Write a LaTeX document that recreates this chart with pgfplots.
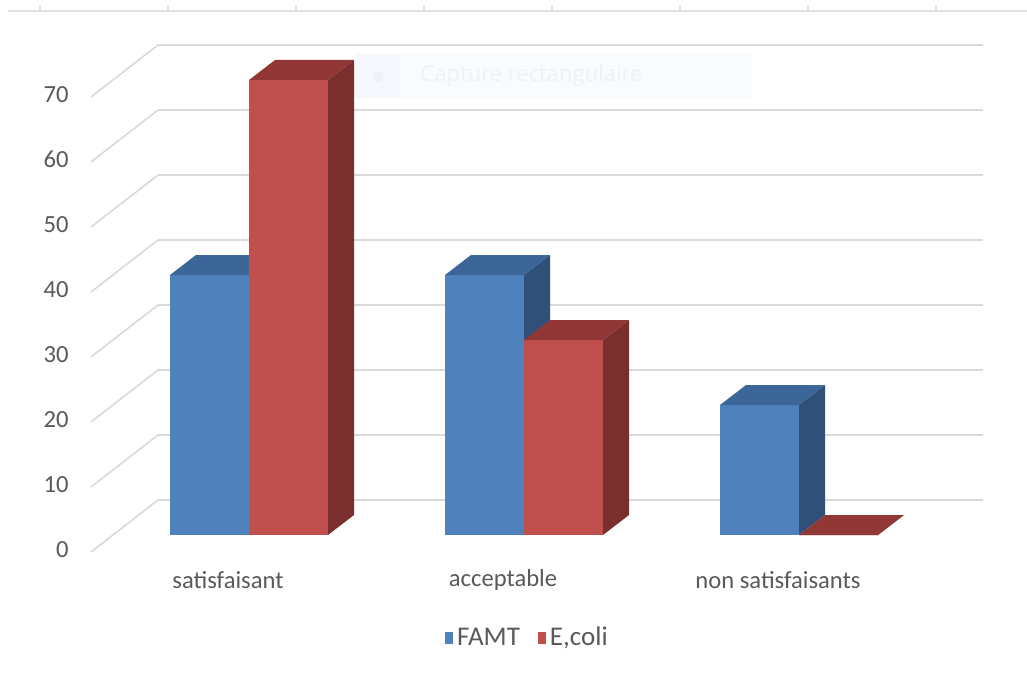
\documentclass[border=0pt]{standalone}
\usepackage{pgfplots}
\pgfplotsset{compat=1.18}
\usepackage{pgfplotstable}
\usepackage{fontspec}
\setmainfont{Carlito}
\newfontfamily\capfont{Open Sans}

\definecolor{famtfront}{HTML}{4F81BD}
\definecolor{famttop}{HTML}{3C6697}
\definecolor{famtside}{HTML}{2F5079}
\definecolor{ecolifront}{HTML}{C0504D}
\definecolor{ecolitop}{HTML}{913836}
\definecolor{ecoliside}{HTML}{7A2E2D}
\definecolor{gridc}{HTML}{D9D9D9}
\definecolor{textc}{HTML}{595959}
\definecolor{capbox}{HTML}{F9FBFE}
\definecolor{capleft}{HTML}{F5F8FD}
\definecolor{captext}{HTML}{EEF1F5}

% faces of a 3D bar, drawn at the front-top-left corner of the bar
% (1 value unit = 3.25pt, bar width 39.5pt, depth vector (13pt,10pt))
\pgfdeclareplotmark{barfront}{%
  \pgfmathsetlengthmacro{\barh}{\rawy*3.25pt}%
  \pgfpathrectanglecorners{\pgfqpoint{0pt}{0pt}}{\pgfpoint{39.5pt}{-\barh}}%
  \pgfusepathqfill
}
\pgfdeclareplotmark{bartop}{%
  \pgfpathmoveto{\pgfqpoint{0pt}{0pt}}%
  \pgfpathlineto{\pgfqpoint{39.5pt}{0pt}}%
  \pgfpathlineto{\pgfqpoint{52.5pt}{10pt}}%
  \pgfpathlineto{\pgfqpoint{13pt}{10pt}}%
  \pgfpathclose
  \pgfusepathqfill
}
\pgfdeclareplotmark{barside}{%
  \pgfmathsetlengthmacro{\barh}{\rawy*3.25pt}%
  \pgfpathmoveto{\pgfqpoint{39.5pt}{0pt}}%
  \pgfpathlineto{\pgfqpoint{52.5pt}{10pt}}%
  \pgfpathlineto{\pgfpoint{52.5pt}{10pt-\barh}}%
  \pgfpathlineto{\pgfpoint{39.5pt}{-\barh}}%
  \pgfpathclose
  \pgfusepathqfill
}

\pgfplotstableread{
cat FAMT Ecoli
0 40 70
1 40 30
2 20 0
}\datatable

\begin{document}
\begin{tikzpicture}
\begin{axis}[
  x=137.5pt, y=3.25pt,
  xmin=-0.905455, xmax=2.829091,
  ymin=-21.5385, ymax=82.3077,
  clip=false,
  axis line style={draw=none},
  major tick length=0pt,
  xtick={0,1,2},
  xticklabels={satisfaisant,acceptable,non satisfaisants},
  ytick={0,10,...,70},
  /pgf/number format/assume math mode=true,
  tick label style={font=\fontsize{12.3}{14}\selectfont, text=textc, inner sep=0pt},
  yticklabel style={anchor=east, xshift=34.5pt, yshift=-7.3pt},
  xticklabel style={anchor=center, xshift=-10.5pt, yshift=47.5pt},
  legend columns=-1,
  legend style={draw=none, fill=none, at={(0.5136,0.0548)}, anchor=center,
    font=\fontsize{13.5}{15}\selectfont, text=textc,
    /tikz/every even column/.append style={column sep=8pt},
    nodes={inner sep=1pt}},
]
% top ruler
\draw[color=gridc!80, line width=1pt] (axis cs:-0.87636,80.615) -- (axis cs:2.829091,80.615);
\draw[color=gridc!80, line width=1pt]
  (axis cs:-0.76182,80.615) -- (axis cs:-0.76182,81.538)
  (axis cs:-0.29636,80.615) -- (axis cs:-0.29636,81.538)
  (axis cs:0.16909,80.615) -- (axis cs:0.16909,81.538)
  (axis cs:0.63455,80.615) -- (axis cs:0.63455,81.538)
  (axis cs:1.1,80.615) -- (axis cs:1.1,81.538)
  (axis cs:1.56545,80.615) -- (axis cs:1.56545,81.538)
  (axis cs:2.03091,80.615) -- (axis cs:2.03091,81.538)
  (axis cs:2.49636,80.615) -- (axis cs:2.49636,81.538);
% back wall grid lines
\draw[color=gridc, line width=1pt]
  (axis cs:-0.33091,5.385) -- (axis cs:2.66909,5.385)
  (axis cs:-0.33091,15.385) -- (axis cs:2.66909,15.385)
  (axis cs:-0.33091,25.385) -- (axis cs:2.66909,25.385)
  (axis cs:-0.33091,35.385) -- (axis cs:2.66909,35.385)
  (axis cs:-0.33091,45.385) -- (axis cs:2.66909,45.385)
  (axis cs:-0.33091,55.385) -- (axis cs:2.66909,55.385)
  (axis cs:-0.33091,65.385) -- (axis cs:2.66909,65.385)
  (axis cs:-0.33091,75.385) -- (axis cs:2.66909,75.385);
% side wall grid lines
\draw[color=gridc, line width=0.8pt]
  (axis cs:-0.57455,-2.615) -- (axis cs:-0.33091,5.385)
  (axis cs:-0.57455,7.385) -- (axis cs:-0.33091,15.385)
  (axis cs:-0.57455,17.385) -- (axis cs:-0.33091,25.385)
  (axis cs:-0.57455,27.385) -- (axis cs:-0.33091,35.385)
  (axis cs:-0.57455,37.385) -- (axis cs:-0.33091,45.385)
  (axis cs:-0.57455,47.385) -- (axis cs:-0.33091,55.385)
  (axis cs:-0.57455,57.385) -- (axis cs:-0.33091,65.385)
  (axis cs:-0.57455,67.385) -- (axis cs:-0.33091,75.385);
% faint screen-capture overlay
\fill[color=capbox] (axis cs:0.38545,74.0) rectangle (axis cs:1.82909,67.23);
\fill[color=capleft] (axis cs:0.38545,74.0) rectangle (axis cs:0.54909,67.23);
\fill[color=captext] (axis cs:0.46909,70.46) circle[radius=2.5pt];
\node[anchor=west, inner sep=0pt, text=captext, font=\capfont\fontsize{11}{13}\selectfont]
  at (axis cs:0.62182,70.615) {Capture rectangulaire};

% FAMT
\addplot[only marks, mark=barfront, mark options={fill=famtfront, draw=none},
  visualization depends on={rawy \as \rawy},
  legend image code/.code={\fill[famtfront] (0pt,-2.8pt) rectangle (3.6pt,2.8pt);
    \path (4.6pt,0pt);}]
  table[x expr=\thisrow{cat}-0.287273, y=FAMT]{\datatable};
\addlegendentry{FAMT}
\addplot[forget plot, only marks, mark=bartop, mark options={fill=famttop, draw=none}]
  table[x expr=\thisrow{cat}-0.287273, y=FAMT]{\datatable};
\addplot[forget plot, only marks, mark=barside, mark options={fill=famtside, draw=none},
  visualization depends on={rawy \as \rawy}]
  table[x expr=\thisrow{cat}-0.287273, y=FAMT]{\datatable};
% E,coli
\addplot[only marks, mark=barfront, mark options={fill=ecolifront, draw=none},
  visualization depends on={rawy \as \rawy},
  legend image code/.code={\fill[ecolifront] (0pt,-2.8pt) rectangle (3.6pt,2.8pt);
    \path (4.6pt,0pt);}]
  table[x=cat, y=Ecoli]{\datatable};
\addlegendentry{E,coli}
\addplot[forget plot, only marks, mark=bartop, mark options={fill=ecolitop, draw=none}]
  table[x=cat, y=Ecoli]{\datatable};
\addplot[forget plot, only marks, mark=barside, mark options={fill=ecoliside, draw=none},
  visualization depends on={rawy \as \rawy}]
  table[x=cat, y=Ecoli]{\datatable};
\end{axis}
\pgfresetboundingbox
\path[use as bounding box] (current axis.south west) rectangle (current axis.north east);
\end{tikzpicture}
\end{document}
